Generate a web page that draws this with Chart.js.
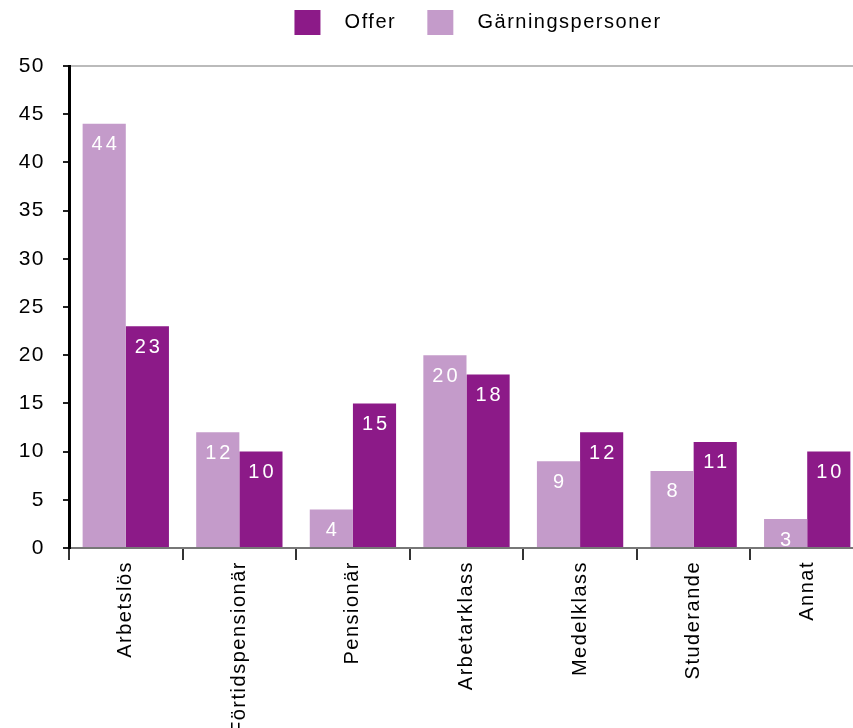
<!DOCTYPE html>
<html>
<head>
<meta charset="utf-8">
<script src="https://cdn.jsdelivr.net/npm/chart.js@4.4.1/dist/chart.umd.min.js"></script>
<style>
  html, body { margin: 0; padding: 0; background: #fff; overflow: hidden; }
  /* the plot runs past the right edge in the original, so the canvas is a bit wider and clipped */
  #wrap { width: 853px; height: 728px; overflow: hidden; }
</style>
</head>
<body>
<div id="wrap"><canvas id="chart" width="864" height="728"></canvas></div>
<script>
// Data
const categories = ['Arbetslös', 'Förtidspensionär', 'Pensionär', 'Arbetarklass', 'Medelklass', 'Studerande', 'Annat'];
const offerValues = [23, 10, 15, 18, 12, 11, 10];
const gpValues = [44, 12, 4, 20, 9, 8, 3];
const yTicks = [0, 5, 10, 15, 20, 25, 30, 35, 40, 45, 50];

const DARK = '#8C1A88';
const LIGHT = '#C49BCA';
const FONT = "'Liberation Sans', Arial, sans-serif";

// the original text is drawn wide, so add some letter spacing
const spacingPlugin = {
    id: 'spacing',
    beforeUpdate(chart) { chart.ctx.letterSpacing = '1.5px'; },
    beforeDraw(chart) { chart.ctx.letterSpacing = '1.5px'; },
    beforeLayout(chart) {
        // more room between the legend and the plot
        const lg = chart.legend;
        if (lg && !lg._extra) {
            const fit = lg.fit.bind(lg);
            lg.fit = function() { fit(); this.height += 21; };
            lg._extra = true;
        }
    },
    afterLayout(chart) {
        // legend sits right of centre in the original
        chart.legend.left += 46;
        chart.legend.right += 46;
    }
};

// white value labels just inside the top of each bar
const valueLabels = {
    id: 'valueLabels',
    afterDatasetsDraw(chart) {
        const ctx = chart.ctx;
        ctx.save();
        ctx.letterSpacing = '3px';
        ctx.fillStyle = '#fff';
        ctx.font = '20px ' + FONT;
        ctx.textAlign = 'center';
        ctx.textBaseline = 'middle';
        chart.data.datasets.forEach((ds, i) => {
            chart.getDatasetMeta(i).data.forEach((bar, j) => {
                ctx.fillText(String(ds.data[j]), bar.x + 1.5, bar.y + 21);
            });
        });
        ctx.restore();
    }
};

new Chart(document.getElementById('chart'), {
    type: 'bar',
    data: {
        labels: categories,
        datasets: [
            { label: 'Gärningspersoner', data: gpValues, backgroundColor: LIGHT, borderWidth: 0 },
            { label: 'Offer', data: offerValues, backgroundColor: DARK, borderWidth: 0 }
        ]
    },
    options: {
        responsive: false,
        animation: false,
        devicePixelRatio: 1,
        categoryPercentage: 0.76,
        barPercentage: 1.0,
        layout: { padding: { top: 0, right: 0, left: 0, bottom: 0 } },
        plugins: {
            tooltip: { enabled: false },
            legend: {
                position: 'top',
                labels: {
                    font: { family: FONT, size: 20 },
                    color: '#000',
                    boxWidth: 26,
                    boxHeight: 25,
                    padding: 10,
                    sort: (a, b) => b.datasetIndex - a.datasetIndex,
                    generateLabels: chart => Chart.defaults.plugins.legend.labels.generateLabels(chart)
                        .map(l => Object.assign(l, { text: '  ' + l.text + (l.datasetIndex === 1 ? '   ' : '') }))
                }
            }
        },
        scales: {
            x: {
                afterFit: s => { s.height = 180; s.paddingRight = 0; s.paddingLeft = 0; },
                border: { color: '#777', width: 2 },
                grid: { offset: true, drawOnChartArea: false, color: '#333', tickLength: 12, lineWidth: 2 },
                ticks: {
                    minRotation: 90, maxRotation: 90, padding: 1,
                    font: { family: FONT, size: 20 }, color: '#000'
                }
            },
            y: {
                min: 0, max: 50,
                afterBuildTicks: s => { s.ticks = yTicks.map(v => ({ value: v })); },
                afterFit: s => { s.width = 69; },
                border: { color: '#000', width: 3 },
                grid: {
                    color: c => c.tick.value === 50 ? '#bbb' : 'rgba(0,0,0,0)',
                    tickColor: '#222', tickLength: 6, lineWidth: 2
                },
                ticks: { font: { family: FONT, size: 21 }, color: '#000', padding: 18 }
            }
        }
    },
    plugins: [spacingPlugin, valueLabels]
});
</script>
</body>
</html>
